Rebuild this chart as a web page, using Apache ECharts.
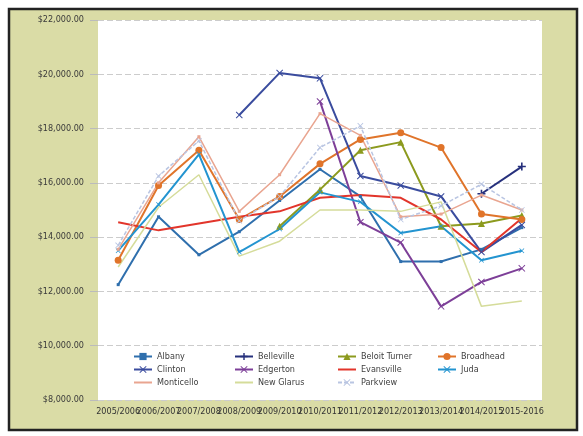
<!DOCTYPE html>
<html>
<head>
<meta charset="utf-8">
<script src="https://cdn.jsdelivr.net/npm/echarts@6/dist/echarts.min.js"></script>
<style>
  html, body { margin: 0; padding: 0; background: #fff; }
  #chart { width: 583px; height: 436px; }
</style>
</head>
<body>
<div id="chart"></div>
<script>
// school years
const categories = ['2005/2006', '2006/2007', '2007/2008', '2008/2009', '2009/2010', '2010/2011',
  '2011/2012', '2012/2013', '2013/2014', '2014/2015', '2015-2016'];

// cost per district, '-' = no value
const albany = [12250, 14750, 13350, 14200, 15350, 16500, 15500, 13100, 13100, 13550, 14350];
const belleville = ['-', '-', '-', '-', '-', '-', '-', '-', '-', 15600, 16600];
const beloitTurner = ['-', '-', '-', '-', 14400, 15750, 17200, 17500, 14400, 14500, 14800];
const broadhead = [13150, 15900, 17200, 14650, 15500, 16700, 17600, 17850, 17300, 14850, 14650];
const clinton = ['-', '-', '-', 18500, 20050, 19850, 16250, 15900, 15500, 13450, 14450];
const edgerton = ['-', '-', '-', '-', '-', 19000, 14550, 13800, 11450, 12350, 12850];
const evansville = [14550, 14250, 14500, 14750, 14950, 15450, 15550, 15450, 14650, 13450, 14700];
const juda = [13500, 15200, 17050, 13450, 14300, 15650, 15300, 14150, 14400, 13150, 13500];
const monticello = [13550, 16000, 17700, 14950, 16300, 18550, 17750, 14750, 14850, 15550, 15000];
const newGlarus = [12900, 15100, 16300, 13300, 13850, 15000, 15000, 14950, 15300, 11450, 11650];
const parkview = [13700, 16250, 17550, 14600, 15500, 17300, 18100, 14650, 15150, 15950, 15000];

const xMark = 'path://M0,1L1,0L5,4L9,0L10,1L6,5L10,9L9,10L5,6L1,10L0,9L4,5Z';
const plusMark = 'path://M4,0H6V4H10V6H6V10H4V6H0V4H4Z';
const narrow = 'Liberation Sans Narrow, DejaVu Sans Condensed, sans-serif';

function money(v) {
  return '$' + v.toString().replace(/\B(?=(\d{3})+(?!\d))/g, ',') + '.00';
}

function line(name, data, color, width, symbol, size, dashed) {
  return {
    name: name,
    type: 'line',
    data: data,
    symbol: symbol || 'none',
    symbolSize: size || 6,
    showSymbol: !!symbol,
    itemStyle: { color: color },
    lineStyle: { color: color, width: width, type: dashed ? [4, 2] : 'solid' },
    animation: false
  };
}

// legend entry without marker (plain line)
function plain(name) {
  return { name: name, itemStyle: { color: 'rgba(0,0,0,0)', borderWidth: 0 } };
}

const chart = echarts.init(document.getElementById('chart'));

const legendBase = {
  orient: 'vertical',
  top: 346,
  itemWidth: 18,
  itemHeight: 9,
  itemGap: 2,
  textStyle: { fontSize: 9, color: '#404040', lineHeight: 11, fontFamily: narrow }
};

chart.setOption({
  backgroundColor: '#ffffff',
  graphic: [{
    type: 'rect',
    z: -10,
    shape: { x: 9, y: 9, width: 568, height: 421 },
    style: { fill: '#dadca6', stroke: '#222', lineWidth: 2.5 }
  }],
  grid: {
    left: 98, right: 41, top: 20, bottom: 36,
    show: true, backgroundColor: '#ffffff', borderWidth: 0
  },
  legend: [
    Object.assign({ left: 128, data: ['Albany', 'Clinton', plain('Monticello')] }, legendBase),
    Object.assign({ left: 229, data: ['Belleville', 'Edgerton', plain('New Glarus')] }, legendBase),
    Object.assign({ left: 332, data: ['Beloit Turner', plain('Evansville'), 'Parkview'] }, legendBase),
    Object.assign({ left: 432, data: ['Broadhead', 'Juda'] }, legendBase)
  ],
  xAxis: {
    type: 'category',
    data: categories,
    axisLine: { show: false },
    axisTick: { show: false },
    axisLabel: { interval: 0, fontSize: 9, color: '#333', margin: 7, fontFamily: narrow }
  },
  yAxis: {
    type: 'value',
    min: 8000, max: 22000, interval: 2000,
    axisLine: { show: false },
    axisTick: { show: true, length: 8, lineStyle: { color: '#bbb' } },
    splitLine: { lineStyle: { color: '#cccccc', type: [6, 3] } },
    axisLabel: { fontSize: 9, color: '#3a3a3a', margin: 14, formatter: money, fontFamily: narrow }
  },
  series: [
    line('Albany', albany, '#2f6fad', 2, 'rect', 3),
    line('Belleville', belleville, '#26307c', 2, plusMark, 8),
    line('Beloit Turner', beloitTurner, '#8c9a1e', 2, 'triangle', 7),
    line('Broadhead', broadhead, '#e0742a', 2, 'circle', 7),
    line('Clinton', clinton, '#3a4c9e', 2, xMark, 7),
    line('Edgerton', edgerton, '#7d3f98', 2, xMark, 7),
    line('Evansville', evansville, '#e2352b', 2),
    line('Juda', juda, '#2394d0', 2, xMark, 5),
    line('Monticello', monticello, '#e9a590', 1.5, 'rect', 3),
    line('New Glarus', newGlarus, '#d5dc9a', 1.5),
    line('Parkview', parkview, '#b9c5e2', 1.5, xMark, 6, true)
  ]
});
</script>
</body>
</html>
